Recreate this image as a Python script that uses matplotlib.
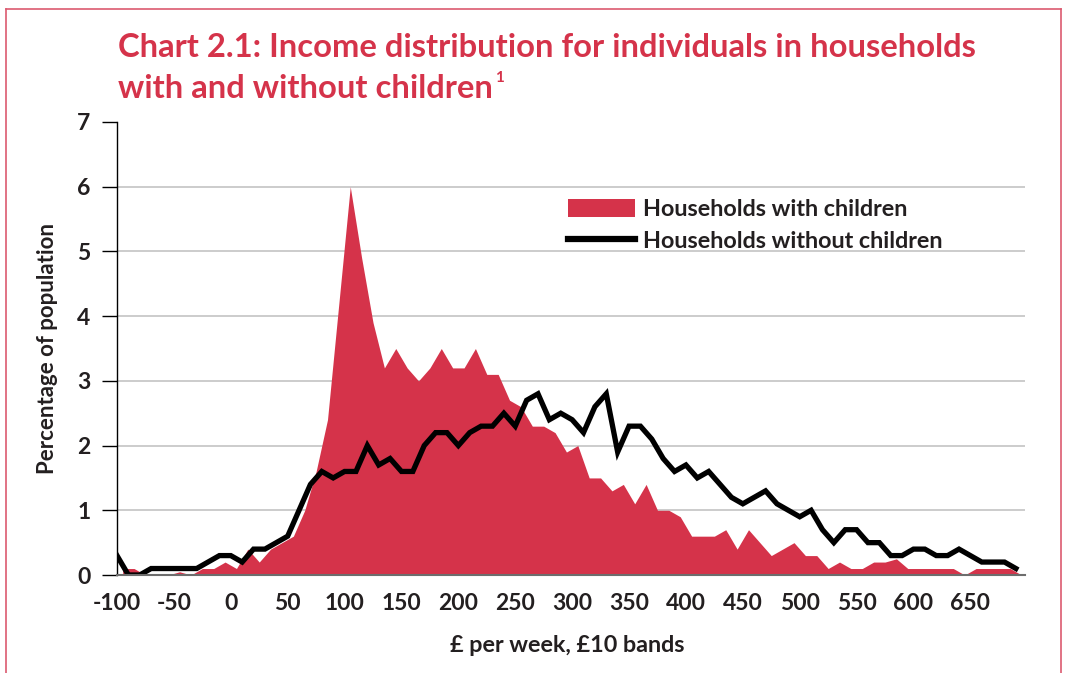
import matplotlib.pyplot as plt
from matplotlib import font_manager
from matplotlib.patches import Patch
from matplotlib.lines import Line2D
import numpy as np


def pick_font(*names):
    for name in names:
        try:
            font_manager.findfont(name, fallback_to_default=False)
            return name
        except ValueError:
            pass
    return 'DejaVu Sans'


FONT = pick_font('Liberation Sans Narrow', 'Lato', 'Open Sans')
plt.rcParams['font.family'] = [FONT, 'DejaVu Sans']
plt.rcParams['font.weight'] = 'bold'
plt.rcParams['axes.unicode_minus'] = False

# £10 income bands, lower edge of each band
bands = np.arange(-100, 700, 10)

# percentage of population in each band
with_children = [0.1, 0.1, 0.0, 0.0, 0.0, 0.05, 0.0, 0.1, 0.1, 0.2,
                 0.1, 0.4, 0.2, 0.4, 0.5, 0.6, 1.0, 1.6, 2.4, 4.2,
                 6.0, 4.9, 3.9, 3.2, 3.5, 3.2, 3.0, 3.2, 3.5, 3.2,
                 3.2, 3.5, 3.1, 3.1, 2.7, 2.6, 2.3, 2.3, 2.2, 1.9,
                 2.0, 1.5, 1.5, 1.3, 1.4, 1.1, 1.4, 1.0, 1.0, 0.9,
                 0.6, 0.6, 0.6, 0.7, 0.4, 0.7, 0.5, 0.3, 0.4, 0.5,
                 0.3, 0.3, 0.1, 0.2, 0.1, 0.1, 0.2, 0.2, 0.25, 0.1,
                 0.1, 0.1, 0.1, 0.1, 0.0, 0.1, 0.1, 0.1, 0.1, 0.0]
without_children = [0.3, 0.0, 0.0, 0.1, 0.1, 0.1, 0.1, 0.1, 0.2, 0.3,
                    0.3, 0.2, 0.4, 0.4, 0.5, 0.6, 1.0, 1.4, 1.6, 1.5,
                    1.6, 1.6, 2.0, 1.7, 1.8, 1.6, 1.6, 2.0, 2.2, 2.2,
                    2.0, 2.2, 2.3, 2.3, 2.5, 2.3, 2.7, 2.8, 2.4, 2.5,
                    2.4, 2.2, 2.6, 2.8, 1.9, 2.3, 2.3, 2.1, 1.8, 1.6,
                    1.7, 1.5, 1.6, 1.4, 1.2, 1.1, 1.2, 1.3, 1.1, 1.0,
                    0.9, 1.0, 0.7, 0.5, 0.7, 0.7, 0.5, 0.5, 0.3, 0.3,
                    0.4, 0.4, 0.3, 0.3, 0.4, 0.3, 0.2, 0.2, 0.2, 0.1]

x_ticks = list(range(-100, 700, 50))
y_ticks = list(range(0, 8))

RED = '#D5334A'
INK = '#231f20'
W, H = 1065, 673

fig = plt.figure(figsize=(W / 100, H / 100), dpi=100)
ax = fig.add_axes([117 / W, 1 - 575 / H, (1025 - 117) / W, (575 - 122) / H])

# red fill is centred on each band, the black line sits on the band edge
ax.fill_between(bands + 5, with_children, 0, color=RED, lw=0, zorder=2)
ax.plot(bands, without_children, color='black', lw=3.8, zorder=3,
        solid_joinstyle='miter')

ax.set_xlim(-100, 698)
ax.set_ylim(0, 7)
ax.set_xticks(x_ticks)
ax.set_yticks(y_ticks)
ax.tick_params(axis='x', length=0, pad=13, labelsize=16.5)
ax.tick_params(axis='y', length=11, width=1, pad=8, labelsize=16.5, direction='out')
for t in ax.get_xticklabels() + ax.get_yticklabels():
    t.set_fontweight('bold')
    t.set_color(INK)

for y in y_ticks[1:-1]:
    ax.axhline(y, color='#c8c8c8', lw=1.3, zorder=1)

for side in ('top', 'right'):
    ax.spines[side].set_visible(False)
ax.spines['left'].set_linewidth(1)
ax.spines['bottom'].set_color('#6d6d6d')
ax.spines['bottom'].set_linewidth(1.5)
ax.spines['bottom'].set_zorder(4)

handles = [Patch(facecolor=RED, edgecolor='none'),
           Line2D([0], [0], color='black', lw=4.5)]
leg = ax.legend(handles, ['Households with children', 'Households without children'],
                loc='upper left',
                bbox_to_anchor=((568 - 117) / (1025 - 117), (575 - 199) / (575 - 122)),
                frameon=False, handlelength=2.85, handleheight=0.8, handletextpad=0.35,
                labelspacing=0.46, prop={'size': 16.8, 'weight': 'bold'},
                borderpad=0, borderaxespad=0)
for t in leg.get_texts():
    t.set_color(INK)

fig.text(48 / W, 1 - 348 / H, 'Percentage of population', rotation=90,
         ha='center', va='center', fontsize=16, fontweight='bold', color=INK)
fig.text(567 / W, 1 - 645 / H, '£ per week, £10 bands', ha='center', va='center',
         fontsize=16.8, fontweight='bold', color=INK)

fig.text(118 / W, 1 - 57 / H, 'Chart 2.1: Income distribution for individuals in households',
         ha='left', va='baseline', fontsize=23.6, fontweight='bold', color=RED)
line2 = fig.text(118 / W, 1 - 98 / H, 'with and without children',
                 ha='left', va='baseline', fontsize=23.6, fontweight='bold', color=RED)
fig.canvas.draw()
bb = line2.get_window_extent()
fig.text((bb.x1 + 2) / W, 1 - 78 / H, '1', ha='left', va='center',
         fontsize=11, fontweight='bold', color=RED)

# page frame
frame_c = '#dc5a70'
fig.add_artist(Line2D([6 / W, 6 / W], [0, 1 - 9 / H], color=frame_c, lw=1.2))
fig.add_artist(Line2D([1061 / W, 1061 / W], [0, 1 - 9 / H], color=frame_c, lw=1.2))
fig.add_artist(Line2D([6 / W, 1061 / W], [1 - 9 / H, 1 - 9 / H], color=frame_c, lw=1.2))

fig.savefig('out.png', dpi=100)
